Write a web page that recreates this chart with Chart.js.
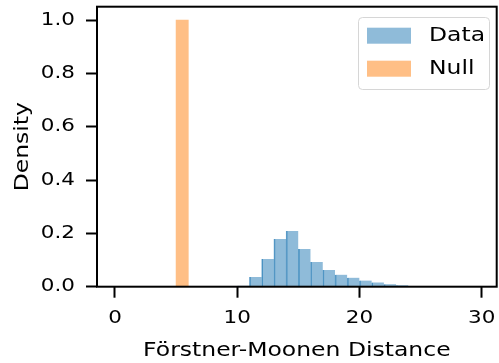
<!DOCTYPE html>
<html>
<head>
<meta charset="utf-8">
<script src="https://cdn.jsdelivr.net/npm/chart.js@4/dist/chart.umd.min.js"></script>
<style>
  html, body { margin: 0; padding: 0; background: #fff; }
  #wrap { width: 499px; height: 363px; }
</style>
</head>
<body>
<div id="wrap"><canvas id="chart" width="499" height="363"></canvas></div>
<script>
// histogram bins (width 1), given by bin centre
const dataCenters = [10.5, 11.5, 12.5, 13.5, 14.5, 15.5, 16.5, 17.5, 18.5, 19.5, 20.5, 21.5, 22.5, 23.5, 24.5];
const dataDensity = [0.004, 0.036, 0.104, 0.179, 0.209, 0.141, 0.093, 0.063, 0.045, 0.034, 0.023, 0.016, 0.009, 0.005, 0.003];
const nullCenters = [5.5];
const nullDensity = [1.0];
const xTicks = [0, 10, 20, 30];
const yTicks = [0, 0.2, 0.4, 0.6, 0.8, 1.0];

const FAMILY = "'DejaVu Sans', sans-serif";
const TICK_FONT = { family: FAMILY, size: 17.6 };
const LABEL_FONT = { family: FAMILY, size: 19.25 };
const BLUE = "rgba(31,119,180,0.5)";
const ORANGE = "rgba(255,127,14,0.5)";
const TEXT_STRETCH = 1.22; // reference glyphs are wider than plain DejaVu

const toPoints = (xs, ys) => xs.map((x, i) => ({ x, y: ys[i] }));

// widen all text horizontally around its anchor
const stretchText = {
  id: "stretchText",
  beforeInit(chart) {
    const ctx = chart.ctx;
    const fill = CanvasRenderingContext2D.prototype.fillText;
    const measure = CanvasRenderingContext2D.prototype.measureText;
    ctx.fillText = function (text, x, y, maxWidth) {
      this.save();
      this.translate(x, y);
      this.scale(TEXT_STRETCH, 1);
      if (maxWidth === undefined) fill.call(this, text, 0, 0);
      else fill.call(this, text, 0, 0, maxWidth / TEXT_STRETCH);
      this.restore();
    };
    ctx.measureText = function (text) {
      const m = measure.call(this, text);
      return {
        width: m.width * TEXT_STRETCH,
        actualBoundingBoxAscent: m.actualBoundingBoxAscent,
        actualBoundingBoxDescent: m.actualBoundingBoxDescent,
        actualBoundingBoxLeft: m.actualBoundingBoxLeft * TEXT_STRETCH,
        actualBoundingBoxRight: m.actualBoundingBoxRight * TEXT_STRETCH,
      };
    };
  },
};

// matplotlib-like box around the axes
const framePlugin = {
  id: "frame",
  afterDatasetsDraw(chart) {
    const { ctx, chartArea: a } = chart;
    ctx.save();
    ctx.strokeStyle = "#000";
    ctx.lineWidth = 2;
    ctx.strokeRect(a.left, a.top, a.right - a.left, a.bottom - a.top);
    ctx.restore();
  },
};

// legend inside the plot, upper right
const legendPlugin = {
  id: "innerLegend",
  afterDraw(chart) {
    const { ctx } = chart;
    const x = 358, y = 17, w = 131, h = 72;
    ctx.save();
    ctx.beginPath();
    ctx.roundRect(x + 0.5, y + 0.5, w, h, 4);
    ctx.fillStyle = "rgba(255,255,255,0.8)";
    ctx.fill();
    ctx.strokeStyle = "#d6d6d6";
    ctx.lineWidth = 1;
    ctx.stroke();
    ctx.font = `${LABEL_FONT.size}px ${FAMILY}`;
    ctx.textBaseline = "middle";
    ctx.textAlign = "left";
    chart.data.datasets.forEach((ds, i) => {
      const sy = 27.7 + i * 33;
      ctx.fillStyle = ds.backgroundColor;
      ctx.fillRect(367, sy, 44, 16);
      ctx.fillStyle = "#000";
      ctx.fillText(ds.label, 429, sy + 8.5);
    });
    ctx.restore();
  },
};

const noEdgePadding = (s) => {
  s.paddingTop = 0; s.paddingBottom = 0; s.paddingLeft = 0; s.paddingRight = 0;
};

new Chart(document.getElementById("chart"), {
  type: "bar",
  data: {
    datasets: [
      { label: "Data", data: toPoints(dataCenters, dataDensity), backgroundColor: BLUE,
        borderColor: "rgba(31,119,180,0.7)", borderWidth: { left: 1, right: 0, top: 0, bottom: 0 }, borderSkipped: false },
      { label: "Null", data: toPoints(nullCenters, nullDensity), backgroundColor: ORANGE, borderWidth: 0 },
    ],
  },
  options: {
    responsive: false,
    devicePixelRatio: 1,
    animation: false,
    grouped: false,
    categoryPercentage: 1,
    barPercentage: 1,
    layout: { padding: { top: 6.7, right: 2.3, left: 0, bottom: 0 } },
    plugins: { legend: { display: false }, tooltip: { enabled: false } },
    scales: {
      x: {
        type: "linear", min: -1.47, max: 31.23, offset: false,
        afterBuildTicks: (s) => { s.ticks = xTicks.map(v => ({ value: v })); },
        afterFit: (s) => { s.height = 76.3; noEdgePadding(s); },
        grid: { offset: false, drawOnChartArea: false, drawTicks: true, tickLength: 11, tickWidth: 2, tickColor: "#000" },
        border: { display: false },
        ticks: { color: "#000", font: TICK_FONT, padding: 10, maxRotation: 0 },
        title: { display: true, text: "Förstner-Moonen Distance", color: "#000", font: LABEL_FONT, padding: { top: 0, bottom: 0.5 } },
      },
      y: {
        type: "linear", min: 0, max: 1.05,
        afterBuildTicks: (s) => { s.ticks = yTicks.map(v => ({ value: v })); },
        afterFit: (s) => { s.width = 97; noEdgePadding(s); },
        grid: { drawOnChartArea: false, drawTicks: true, tickLength: 11, tickWidth: 2, tickColor: "#000" },
        border: { display: false },
        ticks: { color: "#000", font: TICK_FONT, padding: 11, callback: (v) => Number(v).toFixed(1) },
        title: { display: true, text: "Density", color: "#000", font: LABEL_FONT, padding: { top: 11, bottom: 0 } },
      },
    },
  },
  plugins: [stretchText, framePlugin, legendPlugin],
});
</script>
</body>
</html>
